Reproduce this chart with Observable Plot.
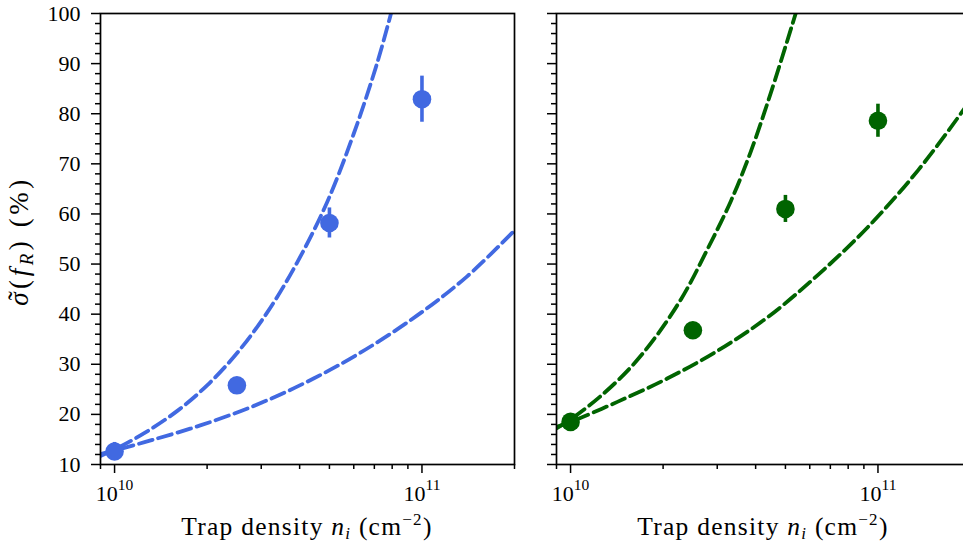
<!DOCTYPE html>
<html><head><meta charset="utf-8">
<script src="https://cdn.jsdelivr.net/npm/d3@7"></script>
<script src="https://cdn.jsdelivr.net/npm/@observablehq/plot@0.6"></script>
<style>
html,body{margin:0;padding:0;background:#fff;}
#chart{position:relative;width:963px;height:547px;overflow:hidden;background:#fff;}
#chart svg{position:absolute;top:0;}
#chart svg text{font-family:'Liberation Serif','DejaVu Serif',serif;font-variant:normal;}
</style></head><body><div id="chart"></div>
<script>
// ---- data ----
const xPoints = [1e10, 2.5e10, 5e10, 1e11];

const bluePoints = [12.6, 25.8, 58.2, 82.9];
const blueErr = [1.8, 0.8, 3.0, 4.6];
const greenPoints = [18.5, 36.8, 61.0, 78.6];
const greenErr = [1.2, 0.8, 2.7, 3.3];

const blueUpperX = [9.0e9, 1.0e10, 1.245e10, 1.6e10, 2.0e10, 2.5e10, 3.135e10, 3.925e10, 4.91e10, 5.99e10, 7.14e10, 7.93e10];
const blueUpperY = [11.7, 13.0, 16.2, 20.7, 25.8, 32.2, 40.3, 50.3, 62.3, 75.9, 90.0, 100];
const blueLowerX = [9.0e9, 1.0e10, 1.31e10, 1.9e10, 2.84e10, 4.23e10, 6.3e10, 9.63e10, 1.4e11, 2.0e11];
const blueLowerY = [12.1, 12.8, 14.8, 17.8, 21.7, 26.5, 32.3, 39.7, 47.5, 56.7];

const greenUpperX = [9.0e9, 1.0e10, 1.25e10, 1.57e10, 1.92e10, 2.34e10, 2.79e10, 3.33e10, 3.86e10, 4.49e10, 5.4e10];
const greenUpperY = [17.2, 19.0, 23.6, 29.4, 36.0, 44.0, 53.0, 62.7, 72.5, 84.3, 100];
const greenLowerX = [9.0e9, 1.0e10, 1.42e10, 2.07e10, 3.01e10, 4.38e10, 6.37e10, 9.28e10, 1.35e11, 1.92e11, 2.0e11];
const greenLowerY = [17.5, 18.5, 22.5, 27.2, 32.7, 39.4, 47.8, 57.4, 68.7, 81.2, 82.8];

const xDomain = [9e9, 2e11];
const yDomain = [10, 100];
const xMajorTicks = [1e10, 1e11];
const xMinorTicks = [9e9, 2e10, 3e10, 4e10, 5e10, 6e10, 7e10, 8e10, 9e10, 2e11];
const yMajorTicks = [10, 20, 30, 40, 50, 60, 70, 80, 90, 100];
const yMinorTicks = [12,14,16,18,22,24,26,28,32,34,36,38,42,44,46,48,52,54,56,58,62,64,66,68,72,74,76,78,82,84,86,88,92,94,96,98];

const blue = "#4169E1";
const green = "#006400";
const FONT = "'Liberation Serif', 'DejaVu Serif', serif";
const FS = 22;      // tick labels
const LFS = 25.5;   // x axis label
const YFS = 27;     // y axis label

function panel(o) {
  const pts = xPoints.map((x, i) => ({x, y: o.points[i], lo: o.points[i] - o.err[i], hi: o.points[i] + o.err[i]}));
  const up = o.upperX.map((x, i) => ({x, y: o.upperY[i]}));
  const lo = o.lowerX.map((x, i) => ({x, y: o.lowerY[i]}));
  const dash = {stroke: o.color, strokeWidth: 3.8, strokeDasharray: "14,6", curve: "catmull-rom", clip: true};
  const svg = Plot.plot({
    width: o.width, height: 547,
    marginLeft: o.marginLeft, marginRight: o.marginRight, marginTop: 13, marginBottom: 83,
    x: {type: "log", domain: xDomain, axis: null},
    y: {domain: yDomain, axis: null},
    style: {fontFamily: FONT, fontSize: FS + "px", background: "transparent", color: "black", overflow: "visible"},
    marks: [
      Plot.line(up, {x: "x", y: "y", ...dash}),
      Plot.line(lo, {x: "x", y: "y", ...dash}),
      Plot.ruleX(pts, {x: "x", y1: "lo", y2: "hi", stroke: o.color, strokeWidth: 3.6}),
      Plot.dot(pts, {x: "x", y: "y", r: 9.3, fill: o.color, stroke: "none"}),
      Plot.frame({stroke: "black", strokeWidth: 1.7}),
      Plot.axisY(yMajorTicks, {tickSize: 9, tickPadding: 11, strokeWidth: 1.5, label: null,
        tickFormat: o.showYLabels ? (d => String(d)) : (() => "")}),
      Plot.axisY(yMinorTicks, {tickSize: 5, strokeWidth: 1.5, label: null, tickFormat: () => ""}),
      Plot.axisX(xMajorTicks, {tickSize: 9, tickPadding: 12, strokeWidth: 1.5, label: null,
        tickFormat: d => "10|" + Math.round(Math.log10(d))}),
      Plot.axisX(xMinorTicks, {tickSize: 5, strokeWidth: 1.5, label: null, tickFormat: () => ""})
    ]
  });
  svg.style.left = o.left + "px";
  return svg;
}

function fitWidth(textNode, target) {
  const len = textNode.getComputedTextLength();
  const n = textNode.getNumberOfChars();
  if (n > 1 && len < target) textNode.setAttribute("letter-spacing", ((target - len) / (n - 1)).toFixed(2));
}

function decorate(svg, o) {
  const s = d3.select(svg);
  // superscript exponents on the x tick labels
  s.selectAll("text").each(function() {
    const t = this.textContent;
    if (t.startsWith("10|")) {
      const exp = t.split("|")[1];
      const el = d3.select(this);
      el.text(null);
      el.append("tspan").text("10");
      el.append("tspan").attr("dy", "-11").attr("font-size", "15.5px").text(exp);
    }
  });
  // x label
  const cx = o.marginLeft + (o.width - o.marginLeft - o.marginRight) / 2;
  const xl = s.append("text").attr("x", cx).attr("y", 535).attr("text-anchor", "middle")
    .attr("font-size", LFS + "px").attr("fill", "black");
  xl.append("tspan").text("Trap density ");
  xl.append("tspan").attr("font-style", "italic").text("n");
  xl.append("tspan").attr("font-style", "italic").attr("font-size", "17px").attr("dy", "4").text("i");
  xl.append("tspan").attr("dy", "-4").text(" (cm");
  xl.append("tspan").attr("font-size", "17px").attr("dy", "-10").text("\u22122");
  xl.append("tspan").attr("dy", "10").text(")");
  fitWidth(xl.node(), 250);
  if (o.showYLabels) {
    const g = s.append("g").attr("transform", "translate(28,241) rotate(-90)")
      .attr("font-size", YFS + "px").attr("fill", "black");
    const yl = g.append("text").attr("text-anchor", "middle");
    yl.append("tspan").attr("font-style", "italic").text("\u03C3");
    yl.append("tspan").text("(");
    yl.append("tspan").attr("font-style", "italic").text("f");
    yl.append("tspan").attr("font-style", "italic").attr("font-size", "19px").attr("dy", "5").text("R");
    yl.append("tspan").attr("dy", "-5").text(") (%)");
    fitWidth(yl.node(), 126);
    // tilde over sigma, centered on the measured glyph
    const n = yl.node();
    const a = n.getStartPositionOfChar(0).x, b = n.getEndPositionOfChar(0).x;
    g.append("text").attr("text-anchor", "middle").attr("x", (a + b) / 2 + 1.5).attr("y", -1)
      .text("\u02DC");
  }
}

const chart = document.getElementById("chart");
const cfgs = [
  {points: bluePoints, err: blueErr, upperX: blueUpperX, upperY: blueUpperY,
   lowerX: blueLowerX, lowerY: blueLowerY, color: blue, width: 530, marginLeft: 100, marginRight: 16, left: 0, showYLabels: true},
  {points: greenPoints, err: greenErr, upperX: greenUpperX, upperY: greenUpperY,
   lowerX: greenLowerX, lowerY: greenLowerY, color: green, width: 460, marginLeft: 26, marginRight: 20, left: 530, showYLabels: false}
];
for (const c of cfgs) {
  const svg = panel(c);
  chart.appendChild(svg);
  decorate(svg, c);
}
</script></body></html>
